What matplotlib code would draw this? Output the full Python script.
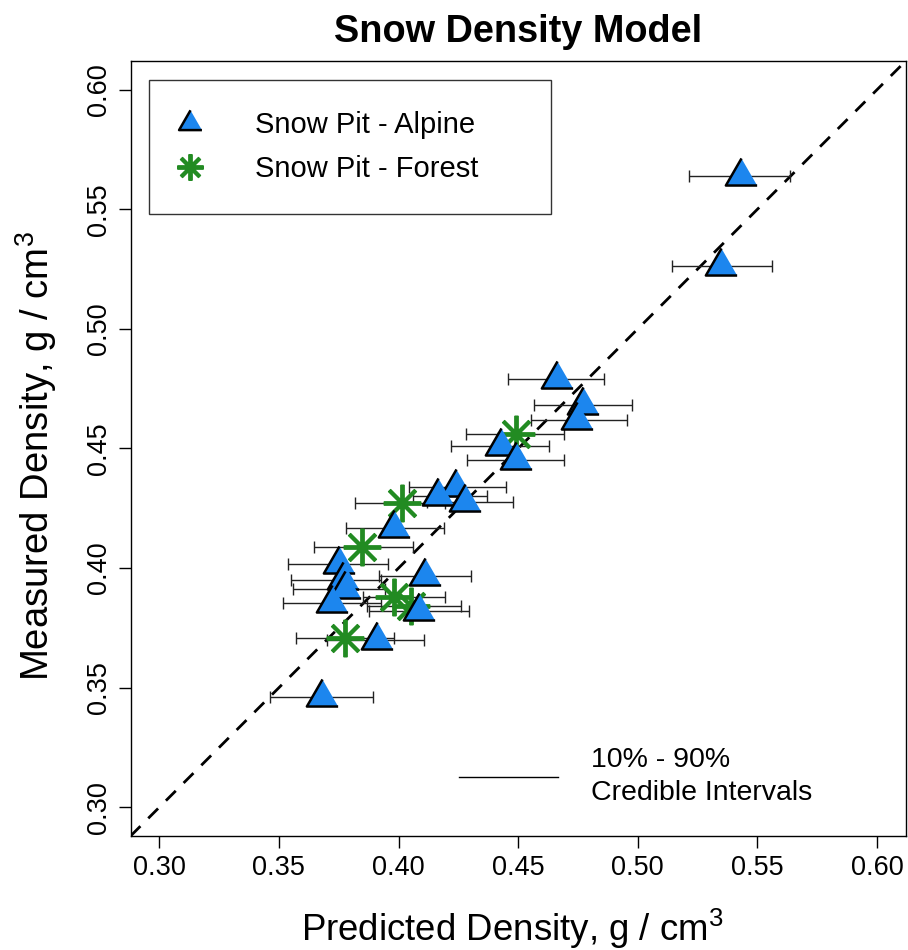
import numpy as np
import matplotlib.pyplot as plt
from matplotlib.lines import Line2D

plt.rcParams["font.family"] = ["Liberation Sans", "DejaVu Sans"]
plt.rcParams["mathtext.fontset"] = "custom"
plt.rcParams["mathtext.rm"] = "Liberation Sans"
plt.rcParams["mathtext.default"] = "regular"

# Snow Pit - Alpine: predicted (median), measured, 10% and 90% credible bounds
alpine_pred = [0.5432, 0.5348, 0.4662, 0.4772, 0.4747, 0.4428, 0.4491, 0.4242, 0.4166, 0.4279,
               0.3979, 0.3752, 0.3766, 0.3775, 0.3722, 0.4110, 0.4087, 0.3912, 0.3682]
alpine_meas = [0.5640, 0.5261, 0.4792, 0.4680, 0.4621, 0.4510, 0.4450, 0.4338, 0.4301, 0.4277,
               0.4168, 0.4016, 0.3949, 0.3911, 0.3852, 0.3969, 0.3820, 0.3700, 0.3461]
alpine_lo = [0.5215, 0.5144, 0.4456, 0.4567, 0.4553, 0.4219, 0.4286, 0.4045, 0.4059, 0.4118,
             0.3780, 0.3539, 0.3550, 0.3557, 0.3518, 0.3919, 0.3878, 0.3703, 0.3463]
alpine_hi = [0.5637, 0.5560, 0.4857, 0.4974, 0.4957, 0.4627, 0.4692, 0.4449, 0.4368, 0.4479,
             0.4191, 0.3954, 0.3926, 0.3945, 0.3926, 0.4305, 0.4293, 0.4108, 0.3894]

# Snow Pit - Forest
forest_pred = [0.4491, 0.4014, 0.3847, 0.3979, 0.4052, 0.3777]
forest_meas = [0.4559, 0.4273, 0.4089, 0.3880, 0.3841, 0.3706]
forest_lo = [0.4282, 0.3817, 0.3645, 0.3850, 0.3869, 0.3572]
forest_hi = [0.4692, 0.4193, 0.4059, 0.4195, 0.4261, 0.3981]

ticks = [0.30, 0.35, 0.40, 0.45, 0.50, 0.55, 0.60]
lims = (0.288, 0.612)

BLUE = "#1C86EE"
GREEN = "#228B22"
tri = [(0, 1), (-0.866, -0.5), (0.866, -0.5)]  # centred like R's pch 24

fig = plt.figure(figsize=(9.08, 9.5), dpi=100)
ax = fig.add_axes([0.1438, 0.12, 0.8537, 0.8158])

ax.axline((0.3, 0.3), slope=1, color="black", lw=2.0, ls=(0, (5, 4)), zorder=1)

for pred, meas, lo, hi in [(alpine_pred, alpine_meas, alpine_lo, alpine_hi),
                           (forest_pred, forest_meas, forest_lo, forest_hi)]:
    pred = np.array(pred)
    err = [pred - np.array(lo), np.array(hi) - pred]
    ax.errorbar(pred, meas, xerr=err, fmt="none", ecolor="#222222",
                elinewidth=1.0, capsize=4.3, capthick=1.0, zorder=2)

# points drawn top to bottom so lower ones sit on top, as in the original
pts = [(x, y, "a") for x, y in zip(alpine_pred, alpine_meas)]
pts += [(x, y, "f") for x, y in zip(forest_pred, forest_meas)]
pts.sort(key=lambda p: -p[1])
for i, (x, y, kind) in enumerate(pts):
    if kind == "a":
        ax.plot(x, y, marker=tri, ms=26, mfc=BLUE, mec="black", mew=1.8,
                ls="none", zorder=3 + i * 0.01)
    else:
        ax.plot(x, y, marker=(8, 2, 0), ms=27, color=GREEN, mew=2.8,
                ls="none", zorder=3 + i * 0.01)

ax.set_xlim(lims)
ax.set_ylim(lims)
ax.set_xticks(ticks)
ax.set_yticks(ticks)
ax.set_xticklabels([f"{t:.2f}" for t in ticks])
ax.set_yticklabels([f"{t:.2f}" for t in ticks], rotation=90, va="center")
ax.tick_params(length=8.4, width=1.0, labelsize=19.5, pad=5, color="black")
for s in ax.spines.values():
    s.set_linewidth(1.0)

ax.set_title("Snow Density Model", fontsize=27.3, fontweight="bold", pad=14)
ax.set_xlabel("Predicted Density, g / cm$^{3}$", fontsize=26.4, va="baseline")
ax.xaxis.set_label_coords(0.492, -0.1355)
ax.set_ylabel("Measured Density, g / cm$^{3}$", fontsize=27.5, va="center")
ax.yaxis.set_label_coords(-0.122, 0.49)

handles = [
    Line2D([], [], marker=tri, ms=19, mfc=BLUE, mec="black", mew=1.8, ls="none"),
    Line2D([], [], marker=(8, 2, 0), ms=19, color=GREEN, mew=2.8, ls="none"),
]
leg = ax.legend(handles, ["Snow Pit - Alpine", "Snow Pit - Forest"],
                loc="upper left", bbox_to_anchor=(0.0241, 0.9749, 0.518, 0.0),
                mode="expand", fontsize=21, frameon=True, fancybox=False,
                edgecolor="black", borderpad=1.06, handlelength=0.66,
                handletextpad=1.9, labelspacing=0.55, borderaxespad=0)
leg.get_frame().set_linewidth(1.0)
ax.add_artist(leg)

note = ax.legend([Line2D([], [], color="black", lw=1.0)],
                 ["10% - 90%\nCredible Intervals"],
                 loc="center left", bbox_to_anchor=(0.4237, 0.0768),
                 fontsize=20.5, frameon=False, borderpad=0, borderaxespad=0,
                 handlelength=3.48, handletextpad=1.17)
for t in note.get_texts():
    t.set_linespacing(1.35)

fig.savefig("out.png", dpi=100)
